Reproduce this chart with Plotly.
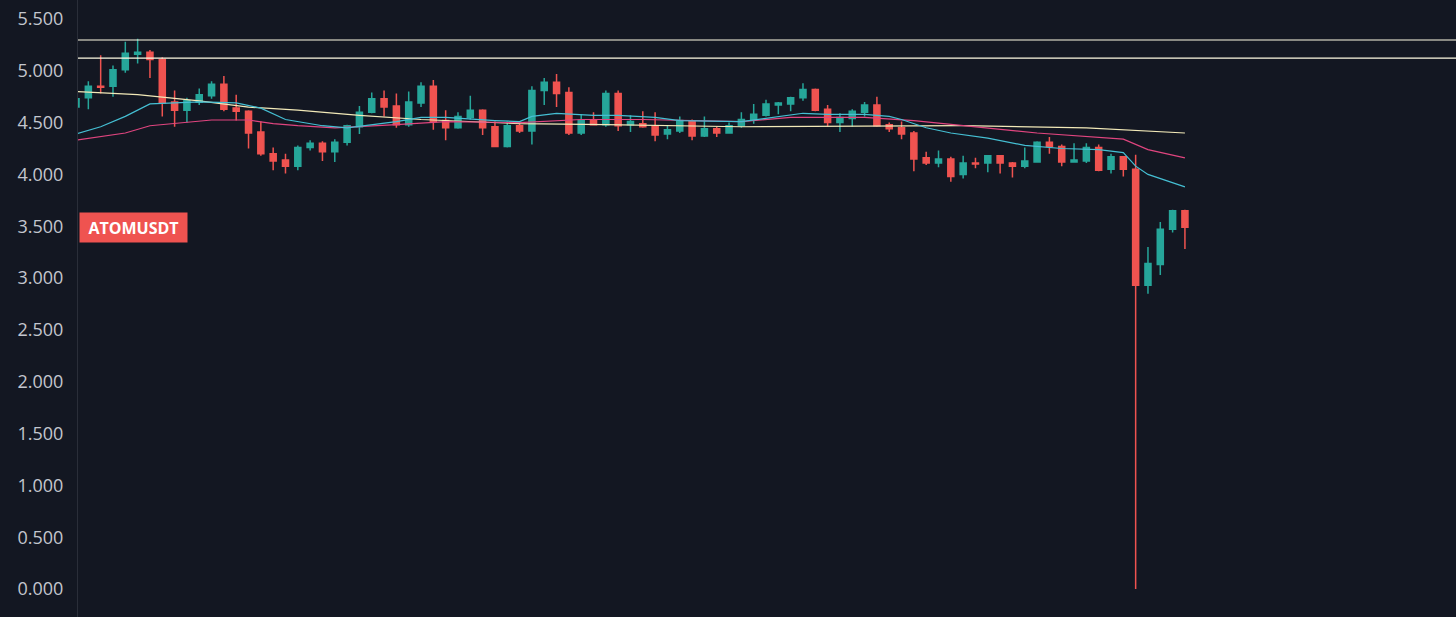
import plotly.graph_objects as go

# ---------------- data ----------------
opens = [4.65, 4.74, 4.85, 4.85, 5.01, 5.16, 5.18, 5.11, 4.70, 4.62,
         4.70, 4.76, 4.87, 4.64, 4.61, 4.41, 4.20, 4.14, 4.08, 4.26,
         4.30, 4.22, 4.31, 4.46, 4.60, 4.73, 4.66, 4.48, 4.69, 4.85,
         4.52, 4.45, 4.55, 4.62, 4.46, 4.27, 4.47, 4.42, 4.81, 4.89,
         4.79, 4.40, 4.52, 4.48, 4.78, 4.48, 4.49, 4.46, 4.39, 4.42,
         4.51, 4.37, 4.44, 4.40, 4.47, 4.53, 4.57, 4.67, 4.68, 4.74,
         4.82, 4.63, 4.50, 4.54, 4.60, 4.67, 4.48, 4.45, 4.40, 4.16,
         4.11, 4.15, 4.00, 4.11, 4.11, 4.18, 4.11, 4.08, 4.12, 4.31,
         4.27, 4.12, 4.13, 4.26, 4.05, 4.17, 4.05, 2.93, 3.13, 3.47,
         3.65]
highs = [4.76, 4.90, 5.15, 5.05, 5.28, 5.31, 5.20, 5.13, 4.81, 4.74,
         4.83, 4.90, 4.95, 4.77, 4.62, 4.51, 4.26, 4.20, 4.28, 4.33,
         4.32, 4.34, 4.48, 4.66, 4.79, 4.81, 4.78, 4.80, 4.89, 4.91,
         4.62, 4.60, 4.76, 4.63, 4.51, 4.51, 4.51, 4.85, 4.93, 4.97,
         4.84, 4.58, 4.60, 4.81, 4.81, 4.57, 4.61, 4.60, 4.47, 4.56,
         4.53, 4.56, 4.46, 4.50, 4.60, 4.68, 4.72, 4.70, 4.75, 4.88,
         4.83, 4.67, 4.59, 4.63, 4.70, 4.75, 4.50, 4.51, 4.42, 4.22,
         4.23, 4.17, 4.18, 4.16, 4.18, 4.18, 4.12, 4.26, 4.32, 4.36,
         4.29, 4.30, 4.30, 4.29, 4.20, 4.17, 4.19, 3.30, 3.54, 3.66,
         3.66]
lows = [4.63, 4.63, 4.78, 4.75, 4.98, 5.07, 4.93, 4.56, 4.46, 4.50,
        4.67, 4.73, 4.61, 4.52, 4.25, 4.18, 4.04, 4.01, 4.04, 4.23,
        4.13, 4.12, 4.28, 4.39, 4.59, 4.56, 4.45, 4.46, 4.65, 4.43,
        4.33, 4.44, 4.53, 4.38, 4.27, 4.26, 4.40, 4.29, 4.67, 4.65,
        4.38, 4.38, 4.48, 4.46, 4.42, 4.41, 4.45, 4.32, 4.34, 4.40,
        4.33, 4.36, 4.36, 4.40, 4.45, 4.49, 4.56, 4.58, 4.61, 4.71,
        4.61, 4.46, 4.41, 4.46, 4.56, 4.46, 4.41, 4.34, 4.03, 4.09,
        4.07, 3.93, 3.96, 4.06, 4.02, 4.01, 3.97, 4.06, 4.12, 4.20,
        4.08, 4.12, 4.11, 4.03, 4.01, 3.98, 0.00, 2.85, 3.03, 3.44,
        3.28]
closes = [4.73, 4.85, 4.84, 5.01, 5.17, 5.18, 5.11, 4.69, 4.62, 4.71,
          4.77, 4.87, 4.63, 4.61, 4.40, 4.20, 4.13, 4.08, 4.26, 4.30,
          4.22, 4.31, 4.47, 4.60, 4.73, 4.65, 4.48, 4.70, 4.85, 4.51,
          4.45, 4.56, 4.62, 4.45, 4.27, 4.47, 4.42, 4.81, 4.89, 4.78,
          4.40, 4.52, 4.48, 4.78, 4.47, 4.51, 4.46, 4.38, 4.43, 4.52,
          4.37, 4.44, 4.40, 4.47, 4.53, 4.58, 4.68, 4.69, 4.74, 4.82,
          4.62, 4.50, 4.55, 4.61, 4.67, 4.47, 4.44, 4.39, 4.15, 4.11,
          4.15, 3.98, 4.11, 4.10, 4.18, 4.11, 4.08, 4.13, 4.31, 4.27,
          4.12, 4.14, 4.26, 4.04, 4.17, 4.05, 2.93, 3.14, 3.47, 3.65,
          3.49]
bars = list(range(len(opens)))

# moving-average lines (bar index, value)
ma_fast_x = [0, 2, 4, 6, 8, 10, 13, 15, 17, 18, 20, 22, 24, 26, 28, 30, 34, 36, 37, 39,
             42, 44, 47, 49, 54, 56, 59, 61, 64, 66, 67, 69, 71, 74, 77, 80, 83, 85, 86, 87, 90]
ma_fast_y = [4.39, 4.46, 4.56, 4.68, 4.69, 4.70, 4.69, 4.64, 4.53, 4.51,
             4.47, 4.45, 4.48, 4.51, 4.55, 4.55, 4.52, 4.51, 4.56, 4.59,
             4.57, 4.57, 4.55, 4.52, 4.51, 4.54, 4.59, 4.58, 4.58, 4.56,
             4.53, 4.45, 4.40, 4.35, 4.28, 4.25, 4.24, 4.21, 4.08, 4.00, 3.88]
ma_mid_x = [0, 4, 6, 11, 14, 16, 18, 21, 26, 30, 36, 41, 46, 54, 58, 64, 68, 72, 78, 85, 87, 90]
ma_mid_y = [4.33, 4.40, 4.47, 4.525, 4.525, 4.49, 4.47, 4.45, 4.48, 4.51, 4.50,
            4.53, 4.53, 4.51, 4.55, 4.55, 4.52, 4.47, 4.40, 4.34, 4.24, 4.16]
ma_slow_x = [0, 5, 10, 14, 18, 23, 28, 36, 43, 54, 72, 82, 90]
ma_slow_y = [4.80, 4.77, 4.71, 4.65, 4.62, 4.57, 4.53, 4.49, 4.48, 4.46, 4.47, 4.45, 4.40]

level_values = [5.297, 5.123]
symbol = "ATOMUSDT"
y_ticks = [0.0, 0.5, 1.0, 1.5, 2.0, 2.5, 3.0, 3.5, 4.0, 4.5, 5.0, 5.5]

# ---------------- styling ----------------
BG = "#131722"
UP = "#26a69a"
DOWN = "#ef5350"

fig = go.Figure()

fig.add_trace(go.Scatter(x=ma_slow_x, y=ma_slow_y, mode="lines",
                         line=dict(color="#f2e9b8", width=1.2), hoverinfo="skip"))
fig.add_trace(go.Scatter(x=ma_mid_x, y=ma_mid_y, mode="lines",
                         line=dict(color="#e0457f", width=1.2), hoverinfo="skip"))
fig.add_trace(go.Scatter(x=ma_fast_x, y=ma_fast_y, mode="lines",
                         line=dict(color="#45bfd3", width=1.2), hoverinfo="skip"))

fig.add_trace(go.Candlestick(
    x=bars, open=opens, high=highs, low=lows, close=closes,
    increasing=dict(line=dict(color=UP, width=1.5), fillcolor=UP),
    decreasing=dict(line=dict(color=DOWN, width=1.5), fillcolor=DOWN),
    whiskerwidth=0,
))

for lv in level_values:
    fig.add_shape(type="line", xref="paper", x0=0, x1=1, yref="y", y0=lv, y1=lv,
                  line=dict(color="#fffbe3", width=1.2))

fig.add_annotation(
    text="<b>" + symbol + "</b>", xref="paper", x=0.001, xanchor="left",
    yref="y", y=closes[-1], yanchor="middle", showarrow=False,
    font=dict(family="Open Sans", size=16, color="#ffffff"),
    bgcolor=DOWN, borderpad=3, width=101, height=23,
)

fig.update_layout(
    width=1456, height=617,
    margin=dict(l=78, r=0, t=0, b=0),
    paper_bgcolor=BG, plot_bgcolor=BG,
    showlegend=False,
    boxgap=0.3,
    xaxis=dict(range=[0.16, 112.0], visible=False, rangeslider=dict(visible=False),
               showgrid=False, zeroline=False),
    yaxis=dict(range=[-0.270, 5.683], tickvals=y_ticks, tickformat=".3f",
               showgrid=False, zeroline=False, showline=True, linecolor="#2a2e39",
               linewidth=1, ticks="", ticklabelstandoff=10,
               tickfont=dict(family="Open Sans", size=18, color="#c3c6ce")),
    font=dict(family="Open Sans"),
)

fig.write_html(
    "out.html",
    config={"displayModeBar": False},
    post_script="document.body.style.margin='0';document.body.style.padding='0';"
                "document.body.style.overflow='hidden';"
                "document.body.style.background='" + BG + "';",
)
